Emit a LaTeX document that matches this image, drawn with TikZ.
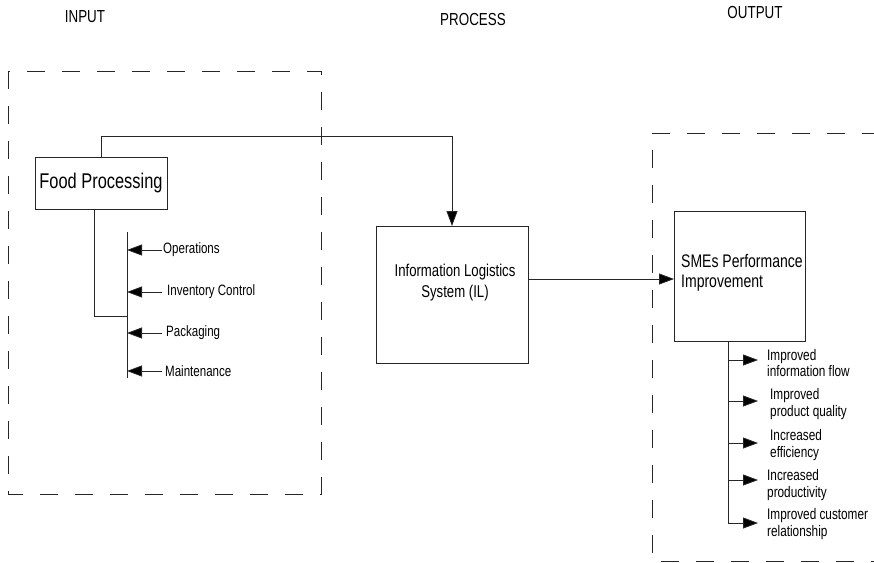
\documentclass[tikz,border=0pt]{standalone}
\usepackage{fontspec}
\setmainfont[FakeStretch=0.77]{Liberation Sans}
\usetikzlibrary{arrows.meta}
\begin{document}
\begin{tikzpicture}[x=1pt,y=-1pt,
  ln/.style={line width=0.8pt,draw=black!85},
  arr/.style={ln,arrows={-Triangle[length=15pt,width=11pt,fill=black]}},
  dsh/.style={line width=0.8pt,draw=black!85,dash pattern=on 18pt off 17pt},
  box/.style={draw=black!85,line width=0.8pt,inner sep=0pt,outer sep=0pt},
  head/.style={font=\fontsize{17.4}{20}\selectfont,inner sep=0pt},
  lbl/.style={font=\fontsize{15}{17}\selectfont,inner sep=1pt,anchor=west},
  olbl/.style={font=\fontsize{15.3}{16.5}\selectfont,inner sep=0pt,anchor=west,align=left}]
\useasboundingbox (0,0) rectangle (874,562);
% headings
\node[head] (hin) at (85,17) {INPUT};
\node[head] (hpr) at (473,20) {PROCESS};
\node[head] (hout) at (755,13) {OUTPUT};
% dashed frames
\draw[dsh] (8,71) rectangle (321,494);
\draw[dsh] (880,133) -- (652,133) -- (652,561) -- (880,561);
% boxes
\node[box,minimum width=132pt,minimum height=52pt,font=\fontsize{21.3}{24}\selectfont] (fp) at (101,183) {Food Processing};
\node[box,minimum width=152pt,minimum height=137pt] (il) at (452,294.5) {};
\node[align=center,inner sep=0pt,font=\fontsize{17.1}{21}\selectfont] (iltxt) at (455,283) {Information Logistics\\System (IL)};
\node[box,minimum width=131pt,minimum height=130pt] (sme) at (739.5,276) {};
\node[align=left,inner sep=0pt,anchor=west,font=\fontsize{18.2}{20}\selectfont] (smetxt) at (681,273) {SMEs Performance\\Improvement};
% top connector
\draw[arr] (fp.north) -- ++(0,-21) -| (il.north);
% IL -> SME
\coordinate (hy) at (0,279);
\draw[arr] (il.east |- hy) -- (sme.west |- hy);
% left tree
\coordinate (lx) at (94,0);
\coordinate (bt) at (127,232);
\coordinate (bb) at (127,378);
\coordinate (jn) at (127,316);
\draw[ln] (fp.south -| lx) |- (jn);
\draw[ln] (bt) -- (bb);
\node[lbl] (ops) at (162,250) {Operations};
\node[lbl] (inv) at (166,292) {Inventory Control};
\node[lbl] (pkg) at (165,333) {Packaging};
\node[lbl] (mnt) at (164,371) {Maintenance};
\draw[arr] (ops.west) -- (ops.west -| bt);
\draw[arr] ([xshift=-4pt]inv.west) -- (inv.west -| bt);
\draw[arr] ([xshift=-3pt]pkg.west) -- (pkg.west -| bt);
\draw[arr] ([xshift=-2pt]mnt.west) -- (mnt.west -| bt);
% right tree
\coordinate (sx) at (728,0);
\node[olbl] (o1) at (767,363) {Improved\\information flow};
\node[olbl] (o2) at (770,404) {Improved\\product quality};
\node[olbl] (o3) at (770,445) {Increased\\efficiency};
\node[olbl] (o4) at (767,485) {Increased\\productivity};
\node[olbl] (o5) at (767,524) {Improved customer\\relationship};
\coordinate (a1) at (758,360);
\coordinate (a2) at (758,401);
\coordinate (a3) at (758,443);
\coordinate (a4) at (758,480);
\coordinate (a5) at (758,523);
\draw[ln] (sme.south -| sx) -- (sx |- a5);
\foreach \a in {a1,a2,a3,a4,a5} \draw[arr] (sx |- \a) -- (\a);
\end{tikzpicture}
\end{document}
